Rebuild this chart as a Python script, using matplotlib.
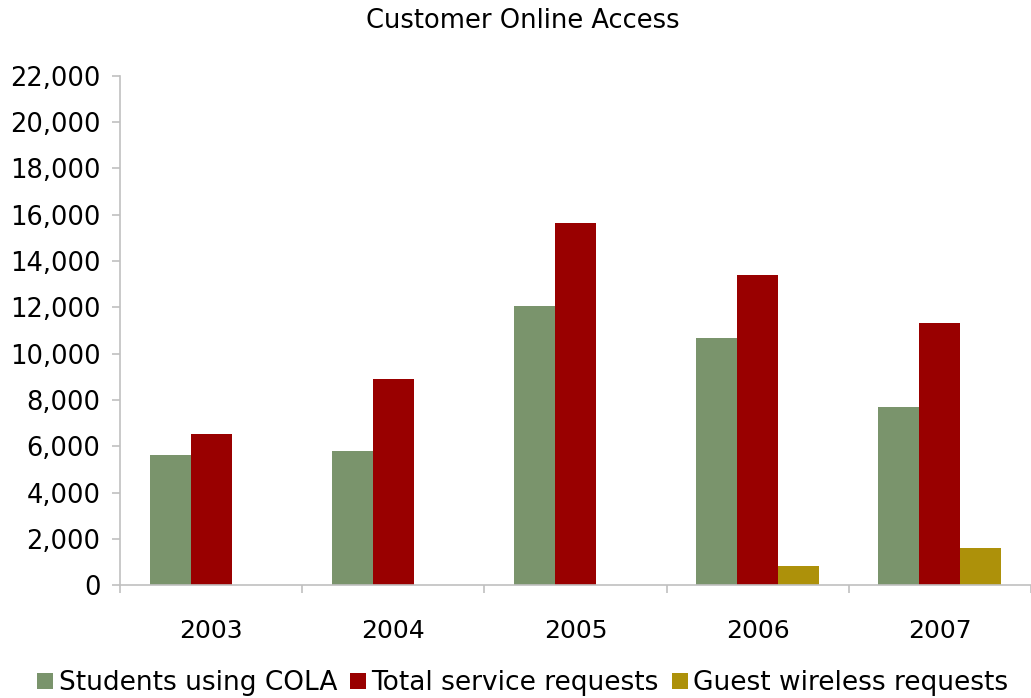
import matplotlib
matplotlib.use("Agg")
import matplotlib.pyplot as plt
import numpy as np
from matplotlib.ticker import FuncFormatter, FixedLocator

years = ["2003", "2004", "2005", "2006", "2007"]
students_cola = [5620, 5800, 12050, 10670, 7690]
service_requests = [6530, 8900, 15640, 13390, 11320]
guest_wireless = [0, 0, 0, 830, 1610]

series_names = ["Students using COLA", "Total service requests", "Guest wireless requests"]
series_colors = ["#7A946C", "#990000", "#AD910A"]

plt.rcParams["font.family"] = ["DejaVu Sans"]

fig = plt.figure(figsize=(10.31, 6.98), dpi=100)
ax = fig.add_axes([0.1164, 0.1614, 0.8836, 0.7304])

n_series = 3
bar_w = 1.0 / (n_series + 1.45)
x = np.arange(len(years))
handles = []
for i, (vals, name, col) in enumerate(zip([students_cola, service_requests, guest_wireless],
                                          series_names, series_colors)):
    offs = (i - (n_series - 1) / 2) * bar_w
    h = ax.bar(x + offs, vals, width=bar_w, color=col, label=name, linewidth=0)
    handles.append(h)

ax.set_xlim(-0.5, len(years) - 0.5)
ax.set_ylim(0, 22000)
ax.yaxis.set_major_locator(FixedLocator(np.arange(0, 22001, 2000)))
ax.yaxis.set_major_formatter(FuncFormatter(lambda v, p: f"{int(v):,}"))

ax.set_xticks(x)
ax.set_xticklabels(years)
ax.set_xticks(np.arange(-0.5, len(years) + 0.5, 1.0), minor=True)
ax.tick_params(axis="x", which="major", length=0, pad=24, labelsize=18)
ax.tick_params(axis="x", which="minor", length=6, color="#C0C0C0", width=1.2)
ax.tick_params(axis="y", which="major", length=6, color="#C0C0C0", width=1.2,
               labelsize=18.5, pad=8)

for s in ["top", "right"]:
    ax.spines[s].set_visible(False)
for s in ["left", "bottom"]:
    ax.spines[s].set_color("#C0C0C0")
    ax.spines[s].set_linewidth(1.2)

fig.text(0.507, 0.970, "Customer Online Access", ha="center", va="center", fontsize=18.5)

leg = fig.legend(handles=handles, labels=series_names, loc="center",
                 bbox_to_anchor=(0.507, 0.021), ncol=3, frameon=False,
                 handlelength=0.6, handleheight=0.6,
                 handletextpad=0.2, columnspacing=0.5,
                 prop={"size": 19})

fig.savefig("out.png", dpi=100)
